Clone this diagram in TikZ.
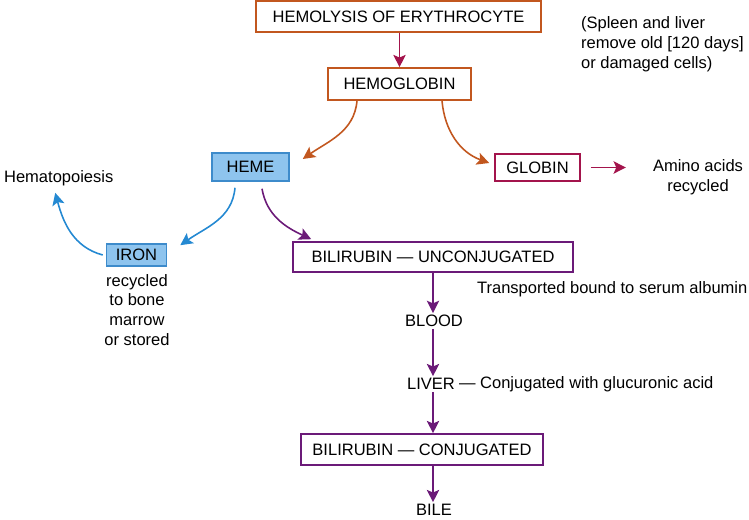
\documentclass[tikz,border=0pt]{standalone}
\usepackage{fontspec}
\setmainfont{Liberation Sans}
\usetikzlibrary{arrows.meta}
\definecolor{rust}{HTML}{C2571F}
\definecolor{wine}{HTML}{A3144C}
\definecolor{skyfill}{HTML}{8EC4EE}
\definecolor{skyline}{HTML}{3D8BCB}
\definecolor{skyarrow}{HTML}{2489D2}
\definecolor{plum}{HTML}{6B1A78}

\begin{document}
\begin{tikzpicture}[
  font=\fontsize{9.4}{11.3}\selectfont,
  stage/.style={rectangle, draw, line width=0.9pt, inner sep=0pt, minimum height=0.6cm},
  bluestage/.style={stage, draw=skyline, fill=skyfill},
  note/.style={inner sep=1pt, align=center},
  flow/.style={line width=0.9pt, -{Stealth[length=7pt, width=7pt, inset=1.5pt]}}
]
\useasboundingbox (0,0) rectangle (14.98,-10.4);

% Boxes
\node[stage, draw=rust, minimum width=5.7cm, minimum height=0.62cm] (hemolysis) at (7.97,-0.33) {HEMOLYSIS OF ERYTHROCYTE};
\node[stage, draw=rust, minimum width=2.86cm, minimum height=0.64cm] (hemoglobin) at (7.99,-1.68) {HEMOGLOBIN};
\node[bluestage, minimum width=1.54cm, minimum height=0.56cm] (heme) at (5.01,-3.34) {HEME};
\node[stage, draw=wine, minimum width=1.7cm, minimum height=0.54cm] (globin) at (10.75,-3.35) {GLOBIN};
\node[bluestage, minimum width=1.2cm, minimum height=0.44cm] (iron) at (2.73,-5.1) {IRON};
\node[stage, draw=plum, minimum width=5.6cm] (unconj) at (8.66,-5.14) {BILIRUBIN — UNCONJUGATED};
\node[stage, draw=plum, minimum width=4.84cm, minimum height=0.62cm] (conj) at (8.44,-8.99) {BILIRUBIN — CONJUGATED};

% Notes
\node[note, anchor=west, align=left] (spleen) at (11.58,-0.88) {(Spleen and liver\\remove old [120 days]\\or damaged cells)};
\node[note] (amino) at (13.96,-3.55) {Amino acids\\recycled};
\node[note, anchor=west] (hematopoiesis) at (0.04,-3.56) {Hematopoiesis};
\node[note] (ironfate) at (2.74,-6.2) {recycled\\to bone\\marrow\\or stored};
\node[note, anchor=west] (albumin) at (9.5,-5.78) {Transported bound to serum albumin};
\node[note] (blood) at (8.68,-6.42) {BLOOD};
\node[note] (liver) at (8.62,-7.68) {LIVER};
\node[note, anchor=west] (glucuronic) at (liver.east) {— Conjugated with glucuronic acid};
\node[note] (bile) at (8.68,-10.2) {BILE};

% Connections
\draw[flow, wine] (hemolysis.south -| hemoglobin) -- (hemoglobin);
\draw[flow, rust] ([xshift=-0.85cm]hemoglobin.south) to[out=-95, in=35] ([xshift=0.26cm, yshift=0.16cm]heme.east);
\draw[flow, rust] ([xshift=0.85cm]hemoglobin.south) to[out=-85, in=160] ([xshift=-0.1cm, yshift=0.09cm]globin.west);
\draw[flow, wine, shorten <=0.2cm, shorten >=0.5cm] (globin.east) -- (globin.east -| amino.west);

\draw[flow, skyarrow] ([xshift=-0.31cm, yshift=-0.12cm]heme.south) to[out=-95, in=35] ([xshift=0.26cm, yshift=-0.04cm]iron.north east);
\draw[flow, skyarrow] ([xshift=-0.06cm]iron.west) to[out=165, in=-75] ([xshift=-0.07cm, yshift=-0.1cm]hematopoiesis.south);
\draw[flow, plum] ([xshift=0.23cm, yshift=-0.14cm]heme.south) to[out=-80, in=155] ([xshift=0.38cm, yshift=0.04cm]unconj.north west);

\draw[flow, plum] (unconj.south) -- (unconj.south |- blood.north);
\draw[flow, plum] (unconj.south |- blood.south) -- (unconj.south |- liver.north);
\draw[flow, plum] (unconj.south |- liver.south) -- (unconj.south |- conj.north);
\draw[flow, plum] (unconj.south |- conj.south) -- (unconj.south |- bile.north);

\end{tikzpicture}
\end{document}
